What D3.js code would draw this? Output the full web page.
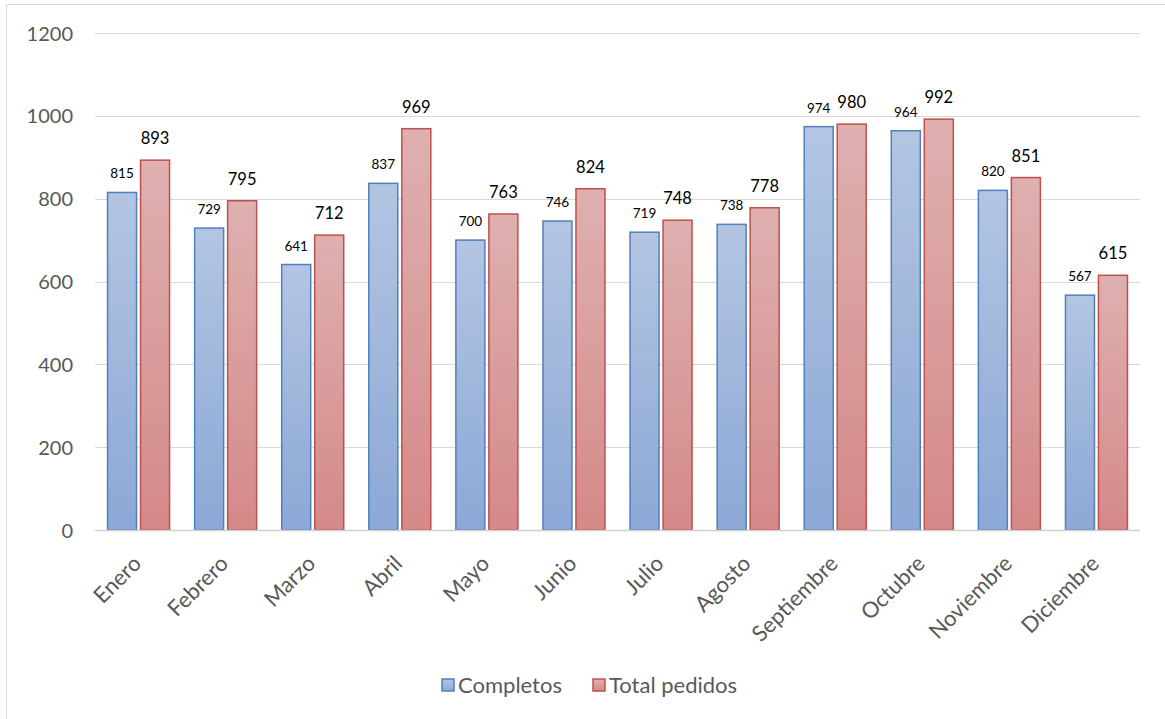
<!DOCTYPE html>
<html>
<head>
<meta charset="utf-8">
<script src="https://cdn.jsdelivr.net/npm/d3@7"></script>
<style>
  html, body { margin: 0; padding: 0; background: #fff; }
  svg { display: block; font-family: Lato, "Open Sans", sans-serif; }
</style>
</head>
<body>
<svg id="chart" width="1165" height="719"></svg>
<script>
// Monthly orders: completed vs total
const months = ["Enero", "Febrero", "Marzo", "Abril", "Mayo", "Junio", "Julio",
                "Agosto", "Septiembre", "Octubre", "Noviembre", "Diciembre"];
const completos = [815, 729, 641, 837, 700, 746, 719, 738, 974, 964, 820, 567];
const totalPedidos = [893, 795, 712, 969, 763, 824, 748, 778, 980, 992, 851, 615];
const yTicks = [0, 200, 400, 600, 800, 1000, 1200];
const seriesNames = ["Completos", "Total pedidos"];

const svg = d3.select("#chart");
const W = 1165, H = 719;
const plot = { left: 95, right: 1140, top: 33, bottom: 530 };

// outer frame
svg.append("rect")
  .attr("x", 6.5).attr("y", 4.5)
  .attr("width", W + 10).attr("height", H + 10)
  .attr("fill", "#fff").attr("stroke", "#d9d9d9").attr("stroke-width", 1);

// gradients for the bar fills
const defs = svg.append("defs");
function grad(id, top, bottom) {
  const g = defs.append("linearGradient").attr("id", id)
    .attr("x1", 0).attr("y1", 0).attr("x2", 0).attr("y2", 1);
  g.append("stop").attr("offset", "0%").attr("stop-color", top);
  g.append("stop").attr("offset", "100%").attr("stop-color", bottom);
}
grad("gBlue", "#b3c5e2", "#8ca8d6");
grad("gRed", "#deb0b0", "#d58989");

const x = d3.scaleBand().domain(months).range([plot.left, plot.right]).padding(0);
const y = d3.scaleLinear().domain([0, 1200]).range([plot.bottom, plot.top]);

// gridlines
svg.append("g").selectAll("line")
  .data(yTicks.filter(d => d > 0))
  .join("line")
  .attr("x1", plot.left).attr("x2", plot.right)
  .attr("y1", d => Math.round(y(d)) + 0.5).attr("y2", d => Math.round(y(d)) + 0.5)
  .attr("stroke", "#d9d9d9").attr("stroke-width", 1);

// y axis labels
const yAxis = d3.axisLeft(y).tickValues(yTicks).tickFormat(d3.format("d")).tickSize(0).tickPadding(0);
const yg = svg.append("g").attr("transform", `translate(73,0)`).call(yAxis);
yg.select(".domain").remove();
yg.selectAll("text")
  .attr("fill", "#595959").attr("font-size", 20)
  .attr("font-family", "Lato, sans-serif").attr("dy", "0.35em");

// bars
const barW = 29, gap = 4;
const series = [
  { name: seriesNames[0], values: completos, fill: "url(#gBlue)", stroke: "#4f81bd", off: -gap / 2 - barW, fs: 13.5, dyLab: 14 },
  { name: seriesNames[1], values: totalPedidos, fill: "url(#gRed)", stroke: "#c0504d", off: gap / 2, fs: 16.5, dyLab: 16 }
];

series.forEach(s => {
  const g = svg.append("g");
  g.selectAll("rect")
    .data(months.map((m, i) => ({ m, v: s.values[i] })))
    .join("rect")
    .attr("x", d => x(d.m) + x.bandwidth() / 2 + s.off)
    .attr("y", d => y(d.v))
    .attr("width", barW)
    .attr("height", d => y(0) - y(d.v))
    .attr("fill", s.fill)
    .attr("stroke", s.stroke)
    .attr("stroke-width", 1.5);
  g.selectAll("text")
    .data(months.map((m, i) => ({ m, v: s.values[i] })))
    .join("text")
    .attr("x", d => x(d.m) + x.bandwidth() / 2 + s.off + barW / 2)
    .attr("y", d => y(d.v) - s.dyLab)
    .attr("text-anchor", "middle")
    .attr("font-size", s.fs)
    .attr("fill", "#000")
    .text(d => d.v);
});

// x axis line
svg.append("line")
  .attr("x1", plot.left).attr("x2", plot.right)
  .attr("y1", plot.bottom + 0.5).attr("y2", plot.bottom + 0.5)
  .attr("stroke", "#d0d0d0").attr("stroke-width", 1.5);

// x axis labels, rotated
const xAxis = d3.axisBottom(x).tickSize(0).tickPadding(0);
const xg = svg.append("g").attr("transform", `translate(0,${plot.bottom})`).call(xAxis);
xg.select(".domain").remove();
xg.selectAll("text")
  .attr("fill", "#595959").attr("font-size", 22)
  .attr("font-family", "Lato, sans-serif")
  .attr("text-anchor", "end")
  .attr("dy", null).attr("y", null)
  .attr("transform", "translate(4,35) rotate(-45)");

// legend
const legend = svg.append("g");
const legendItems = [
  { name: seriesNames[0], fill: "url(#gBlue)", stroke: "#4f81bd", x: 442 },
  { name: seriesNames[1], fill: "url(#gRed)", stroke: "#c0504d", x: 593 }
];
legendItems.forEach(it => {
  legend.append("rect")
    .attr("x", it.x).attr("y", 679).attr("width", 12).attr("height", 12)
    .attr("fill", it.fill).attr("stroke", it.stroke).attr("stroke-width", 1.5);
  legend.append("text")
    .attr("x", it.x + 16).attr("y", 685).attr("dy", "0.35em")
    .attr("font-size", 22).attr("fill", "#595959")
    .text(it.name);
});
</script>
</body>
</html>
